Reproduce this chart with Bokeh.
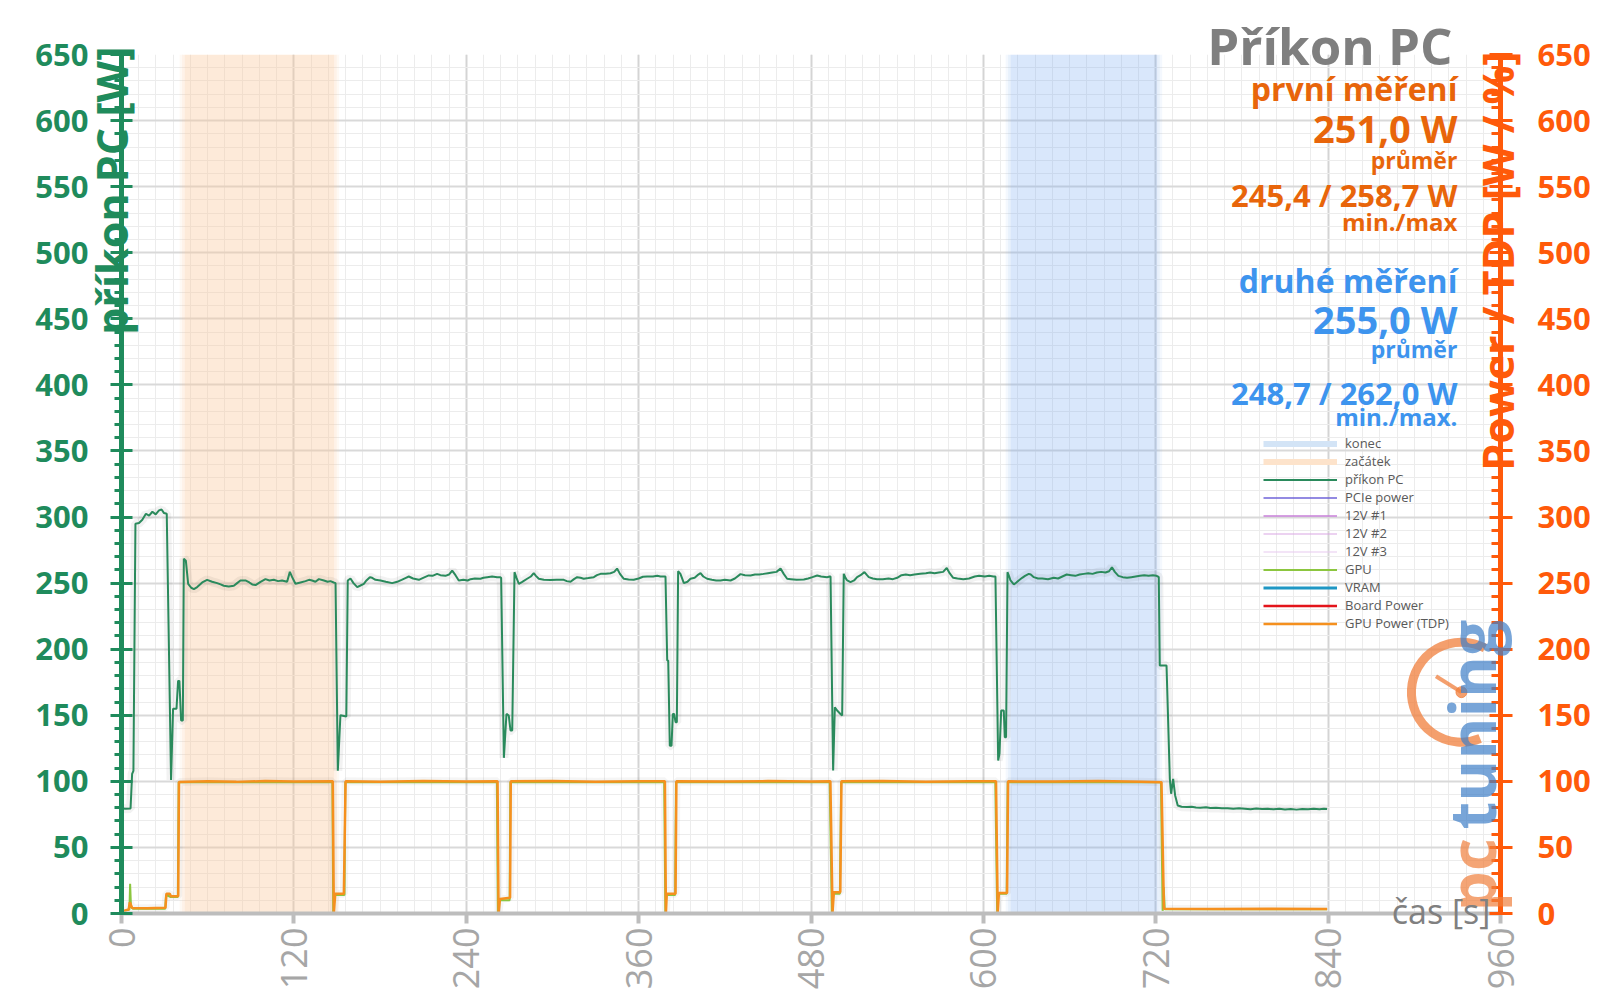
import math
from bokeh.plotting import figure
from bokeh.models import Range1d, LinearAxis, SingleIntervalTicker, Legend, LegendItem
from bokeh.core.properties import value
from bokeh.embed import file_html
from bokeh.resources import INLINE

# ---------------- data ----------------
# příkon PC [W] (time in s)
seg0_t = [0, 3, 6.3, 7.4, 8.3, 9.7, 12.2, 14.5, 17, 19.2, 21.5, 23.8, 26.1, 27.9, 29.6, 31.5, 34.5, 35.9, 38.3, 39.4, 40.3, 41.5, 42.7, 43.4, 44.8]
seg0_w = [79.5, 79.3, 79.5, 105.7, 108, 295, 295.5, 298, 302.5, 301, 304, 302, 305, 305.7, 303, 302.5, 101, 155, 155, 176, 176, 146, 146, 268.4, 267]
pl1_t = [46.4, 48.5, 50.4, 52.7, 56.2, 59.6, 63.1, 66.6, 69, 71.2, 74.7, 78.2, 80.5, 82.8, 86.3, 89, 91, 93.3, 96.8, 100.2, 103, 106, 109, 111.8, 115.3, 117.2, 118.8, 121.1, 124.6, 128.1, 130.5, 132.7, 135, 137.4, 140.9, 143.5, 145.5, 147.7]
pl1_w = [249.5, 246.5, 245.5, 247, 250.5, 252.5, 251, 250, 249, 248, 247.5, 248, 250, 252, 252, 250.5, 249, 248.5, 251, 253, 252, 252.5, 251.5, 252, 251, 258.5, 254.5, 249.5, 250.5, 251.5, 252.5, 252, 251, 253, 252, 251, 251.5, 250.5]
tr1_t = [149, 150.6, 152.4, 156.5]
tr1_w = [250, 108, 150, 149]
pl2_t = [157.5, 159.4, 161.5, 164.1, 166, 168.7, 170.5, 172.9, 174.5, 176.8, 180.3, 184, 188.4, 191.9, 195, 198, 200, 203, 207, 210, 213.9, 216.5, 219.7, 222, 225.5, 228, 230.2, 232.5, 234.8, 238, 241, 243, 246, 249.9, 252, 254.6, 258, 261.5, 263.5]
pl2_w = [252, 253.5, 250, 247, 248, 249.5, 252, 254.5, 254, 252.5, 252, 251, 250, 251, 252.5, 254, 255, 253.5, 252.5, 254, 255.8, 255.5, 257, 256, 255.5, 256.5, 259.5, 256, 252, 252.5, 252, 253, 253.5, 253.3, 254, 254.5, 255, 254.5, 254.5]
tr2_t = [264.3, 266.2, 268, 269.6, 270.8, 272]
tr2_w = [254, 117.8, 151, 149.8, 138.5, 138.5]
pl3_t = [273.6, 275, 276.6, 279, 282.4, 285, 287, 288.5, 290.5, 294, 298.6, 303, 307.9, 310, 312.6, 315, 317.2, 319.5, 321.8, 325, 328.8, 331, 333.5, 337, 340.4, 343, 345, 347, 349.7, 353, 356.6, 360, 363, 365.9, 370, 373, 375.2, 377.5]
pl3_w = [258.3, 254, 249.5, 251, 253.3, 255, 257.5, 255.5, 253.3, 252.5, 252.3, 252.5, 252.5, 251.5, 251, 253, 254.5, 254, 253.3, 253.8, 254.5, 256, 257, 257, 257.5, 258.5, 261, 257, 253.3, 252.8, 252.5, 253.5, 254.8, 255, 255, 255.5, 255, 255]
tr3_t = [378.7, 379.9, 380.6, 381.7, 382.9, 383.8, 384.7, 385.7, 386.6]
tr3_w = [255, 191.4, 191.4, 127, 127, 151, 151, 144.8, 144.8]
pl4_t = [387.5, 389.1, 391.5, 394, 396.1, 399, 401, 403.1, 405, 407.7, 411, 414, 417, 420, 424, 427, 430.9, 434, 437.9, 441, 444, 447.1, 450, 453, 456, 458.8, 461, 463.4, 466, 470, 475, 478, 481, 484.3, 487, 491.2, 493]
pl4_w = [259, 257, 250, 251, 253.3, 254, 256, 257.5, 255, 253.3, 252.5, 252, 252, 252.5, 252, 253.5, 256.8, 256, 255.8, 256.5, 256.5, 257, 257.5, 258, 258.5, 261, 257, 253.3, 253, 252.5, 252.8, 253.5, 254.5, 255.8, 255, 254.5, 255]
tr4_t = [493.6, 495.4, 496.6, 498.2, 500.5, 501.7]
tr4_w = [255, 108.2, 156, 153.6, 151, 149.8]
pl5_t = [502.8, 504, 505.2, 507.5, 510, 512.1, 514.5, 517.2, 519, 520.2, 523, 526, 530, 534, 537, 540, 543, 546, 549, 552, 556, 560, 563, 566, 569, 572, 574.5, 576.5, 579, 582, 586, 590, 594, 597, 601, 604, 607]
pl5_w = [257, 254, 252, 250.7, 252, 254.5, 256, 258.3, 256, 254.5, 253.5, 253, 253, 253.5, 253, 254, 256, 256.5, 256, 256.5, 257, 257.5, 258, 257.5, 258, 258.5, 261.5, 257.5, 254, 253.5, 253, 253.5, 255, 255.5, 255, 255.5, 255]
tr5_t = [608.4, 610.3, 611.2, 612.4, 614.2, 614.9, 615.8]
tr5_w = [255, 115.8, 120.8, 153.6, 153.6, 133.4, 133.4]
pl6_t = [616.8, 618, 618.9, 621.2, 623, 624.6, 627, 629, 631.6, 633, 635.1, 638, 641, 645, 649, 652, 655, 658, 661, 664, 667, 670, 673, 676, 679, 682, 685, 687.5, 689.5, 691.5, 694, 697, 700, 703, 706, 709, 712, 715, 718, 720.5, 721.5]
pl6_w = [258.3, 255, 252, 249, 250.5, 252, 254, 255.5, 257, 256.5, 254.5, 253.5, 253.5, 253, 254, 253.5, 255, 256.5, 256, 255.5, 256.5, 257, 257.5, 257, 258, 258.5, 258, 259, 262, 258.5, 255.5, 254.5, 254, 254.5, 255, 255.5, 256, 255.5, 256, 255.5, 255]
tr6_t = [722.1, 722.8, 727.5, 729.8, 730.7, 732.1, 733.5, 735.3]
tr6_w = [254.5, 187.7, 187.7, 101.9, 90.6, 101.9, 89.3, 81.7]
idle_t = [738, 741.8, 745, 748, 751, 755, 758, 762, 766, 770, 774, 778, 782, 786, 790, 794, 798, 802, 806, 810, 814, 818, 822, 826, 830, 834, 837, 839.3]
idle_w = [80.8, 80.5, 80.8, 80.2, 80, 80.4, 79.8, 80.1, 79.7, 79.6, 79.2, 79.6, 79.3, 78.9, 79.4, 79, 79.2, 78.8, 79.3, 78.7, 79, 78.6, 79.1, 78.8, 79.2, 78.9, 79.3, 79]

pc_t = seg0_t + pl1_t + tr1_t + pl2_t + tr2_t + pl3_t + tr3_t + pl4_t + tr4_t + pl5_t + tr5_t + pl6_t + tr6_t + idle_t
pc_w = seg0_w + pl1_w + tr1_w + pl2_w + tr2_w + pl3_w + tr3_w + pl4_w + tr4_w + pl5_w + tr5_w + pl6_w + tr6_w + idle_w

# GPU Power (TDP) [%]
tdp_t = [0, 1.5, 5, 5.8, 7.4, 18, 30.6, 31.3, 33.5, 34.5, 39.5, 40.0, 60, 80, 100, 120, 147.1, 147.8, 148.8, 154.8, 156,
         180, 210, 240, 261.8, 262.5, 263.5, 270.5, 271, 300, 330, 360, 378.3, 379, 379.6, 385.7, 386.3,
         420, 450, 480, 493.5, 495, 495.9, 500.4, 501.2, 530, 560, 590, 608.8, 610, 610.8, 616.5, 617.2,
         650, 680, 710, 724, 725.7, 760, 800, 839.3]
tdp_v = [1, 2, 3, 8.6, 4.2, 4.0, 4.3, 15, 15, 13, 13, 99.5, 100, 99.6, 100.2, 99.8, 100, 0.5, 15, 15, 100,
         99.7, 100.2, 99.8, 100, 0.5, 11, 12, 100, 100.3, 99.7, 100, 100, 0.5, 15, 15, 100,
         99.8, 100.2, 99.9, 100, 1, 16, 16, 100, 100.2, 99.7, 100, 100, 0.5, 15.5, 15.5, 100,
         99.8, 100.2, 99.7, 99.4, 3.5, 3.4, 3.5, 3.4]

# GPU [W]
gpu_t = [0, 2, 5.5, 6, 6.6, 8, 30.4, 31, 34.3, 39.2, 39.8, 146.8, 147.4, 148.5, 155.2, 155.8, 261.3, 262, 263, 270.2, 270.7,
         377.8, 378.6, 379.3, 385.4, 386, 493, 494.5, 495.6, 500.1, 501, 608.3, 609.6, 610.5, 616.2, 616.9,
         723.6, 724.8, 725.5, 726.3, 839.3]
gpu_v = [1, 2, 3, 22.4, 5, 3.5, 3.5, 14, 12.5, 12.5, 99.3, 99.3, 1, 14, 14, 99.3, 99.3, 0.5, 10, 10, 99.3,
         99.3, 0.5, 14, 14, 99.3, 99.3, 0.5, 15, 15, 99.3, 99.3, 0.5, 15, 15, 99.3,
         99.3, 2, 20, 3.3, 3.3]

zacatek = [44, 148]   # s
konec = [619, 721]    # s

stats_first = ["první měření", "251,0 W", "průměr", "245,4 / 258,7 W", "min./max"]
stats_second = ["druhé měření", "255,0 W", "průměr", "248,7 / 262,0 W", "min./max."]

legend_labels = ["konec", "začátek", "příkon PC", "PCIe power", "12V #1", "12V #2", "12V #3",
                 "GPU", "VRAM", "Board Power", "GPU Power (TDP)"]

assert len(pc_t) == len(pc_w) and len(tdp_t) == len(tdp_v) and len(gpu_t) == len(gpu_v)

# ---------------- figure ----------------
FONT = "Open Sans"
GREEN_AX = "#1f8b5c"
ORANGE_AX = "#ff5a0a"
GRAY_AX = "#bdbdbd"
NAN2 = [float("nan"), float("nan")]

p = figure(width=1600, height=1008, output_backend="svg", toolbar_location=None,
           x_range=Range1d(0, 960), y_range=Range1d(0, 650),
           min_border_left=121, min_border_right=100, min_border_top=54, min_border_bottom=95)
p.outline_line_color = None
p.background_fill_color = "white"
p.border_fill_color = "white"
p.extra_y_ranges = {"tdp": Range1d(0, 650)}

# x axis
xa = p.xaxis[0]
xa.ticker = SingleIntervalTicker(interval=120, num_minor_ticks=10)
xa.axis_line_color = GRAY_AX
xa.axis_line_width = 4
xa.major_tick_line_color = GRAY_AX
xa.major_tick_line_width = 4
xa.major_tick_out = 10
xa.major_tick_in = 0
xa.minor_tick_line_color = None
xa.major_label_orientation = math.pi / 2
xa.major_label_text_font = FONT
xa.major_label_text_font_size = "36px"
xa.major_label_text_color = "#a6a6a6"
xa.major_label_standoff = 4

# left axis
ya = p.yaxis[0]
ya.ticker = SingleIntervalTicker(interval=50, num_minor_ticks=5)
ya.axis_line_color = GREEN_AX
ya.axis_line_width = 5
ya.major_tick_line_color = GREEN_AX
ya.major_tick_line_width = 3
ya.major_tick_out = 11
ya.major_tick_in = 11
ya.minor_tick_line_color = GREEN_AX
ya.minor_tick_line_width = 3
ya.minor_tick_out = 7
ya.minor_tick_in = 0
ya.major_label_text_font = FONT
ya.major_label_text_font_style = "bold"
ya.major_label_text_font_size = "31px"
ya.major_label_text_color = GREEN_AX
ya.major_label_standoff = 22

# right axis
ra = LinearAxis(y_range_name="tdp", ticker=SingleIntervalTicker(interval=50, num_minor_ticks=5))
ra.axis_line_color = ORANGE_AX
ra.axis_line_width = 5
ra.major_tick_line_color = ORANGE_AX
ra.major_tick_line_width = 3
ra.major_tick_out = 12
ra.major_tick_in = 11
ra.minor_tick_line_color = ORANGE_AX
ra.minor_tick_line_width = 3
ra.minor_tick_out = 0
ra.minor_tick_in = 9
ra.major_label_text_font = FONT
ra.major_label_text_font_style = "bold"
ra.major_label_text_font_size = "31px"
ra.major_label_text_color = ORANGE_AX
ra.major_label_standoff = 25
p.add_layout(ra, "right")

# grid
p.xgrid.grid_line_color = "#d4d4d4"
p.xgrid.grid_line_width = 2
p.xgrid.minor_grid_line_color = "#ececec"
p.xgrid.minor_grid_line_width = 1
p.ygrid.grid_line_color = "#d9d9d9"
p.ygrid.grid_line_width = 2
p.ygrid.minor_grid_line_color = "#ececec"
p.ygrid.minor_grid_line_width = 1

# shaded bands with soft edges
for band, col, a in [(zacatek, "#f9c89a", 0.38), (konec, "#78aaf0", 0.28)]:
    p.quad(left=[band[0]], right=[band[1]], bottom=[0], top=[650], fill_color=col, fill_alpha=a, line_color=None)
    for lo, hi, aa in [(-3.5, -1.8, a * 0.3), (-1.8, 0, a * 0.6)]:
        p.quad(left=[band[0] + lo, band[1] - hi], right=[band[0] + hi, band[1] - lo], bottom=[0, 0], top=[650, 650],
               fill_color=col, fill_alpha=aa, line_color=None)

# glow / shadow under the lines
p.line(pc_t, pc_w, line_color="#000000", line_alpha=0.05, line_width=9)
p.line(tdp_t, tdp_v, line_color="#000000", line_alpha=0.04, line_width=8, y_range_name="tdp")

# legend-only series (not visible in the chart)
leg_konec = p.line(NAN2, NAN2, line_color="#d3e4f6", line_width=6)
leg_zac = p.line(NAN2, NAN2, line_color="#fde3cb", line_width=6)
leg_pcie = p.line(NAN2, NAN2, line_color="#6f63d9", line_width=1.5)
leg_12v1 = p.line(NAN2, NAN2, line_color="#c77fd9", line_width=1.5)
leg_12v2 = p.line(NAN2, NAN2, line_color="#d9a6e4", line_width=1.2)
leg_12v3 = p.line(NAN2, NAN2, line_color="#e8c9ef", line_width=1.2)
leg_vram = p.line(NAN2, NAN2, line_color="#1f97c4", line_width=3)
leg_board = p.line(NAN2, NAN2, line_color="#e3141b", line_width=2.5)

r_gpu = p.line(gpu_t, gpu_v, line_color="#8cc63f", line_width=2, y_range_name="tdp")
r_tdp = p.line(tdp_t, tdp_v, line_color="#f5901e", line_width=2.5, y_range_name="tdp")
r_pc = p.line(pc_t, pc_w, line_color="#2a8a5c", line_width=2)

renderers = [leg_konec, leg_zac, r_pc, leg_pcie, leg_12v1, leg_12v2, leg_12v3, r_gpu, leg_vram, leg_board, r_tdp]
legend = Legend(items=[LegendItem(label=lab, renderers=[r]) for lab, r in zip(legend_labels, renderers)],
                location=(1142, 281), orientation="vertical",
                label_text_font=FONT, label_text_font_size="13px", label_text_color="#595959",
                glyph_width=74, glyph_height=17, label_height=17, label_standoff=8, spacing=0,
                padding=0, margin=0, background_fill_alpha=0, border_line_color=None)
p.add_layout(legend)

# logo (watermark)
p.arc(x=[932.8], y=[167.5], radius=50, radius_units="screen",
      start_angle=math.radians(62), end_angle=math.radians(292),
      direction="anticlock", line_color="#f07f3c", line_width=9, line_alpha=0.75)
p.ray(x=[932.8], y=[167.5], length=30, length_units="screen", angle=math.radians(148),
      line_color="#f07f3c", line_width=4, line_alpha=0.75)
p.scatter(x=[932.8], y=[167.5], size=11, color="#f07f3c", alpha=0.75)


def add_text(x, y, txt, size, color, bold=True, angle=0.0, align="right", baseline="alphabetic", alpha=1.0):
    p.text(x=[x], y=[y], text=[txt], angle=angle, text_align=align, text_baseline=baseline,
           text_font=value(FONT), text_font_style=value("bold" if bold else "normal"),
           text_font_size=value(size), text_color=color, text_alpha=alpha, level="overlay")


add_text(939.5, 1.5, "pc", "64px", "#f07f3c", angle=math.pi / 2, align="left", baseline="middle", alpha=0.7)
add_text(939.5, 63.6, "tuning", "64px", "#3f7fc8", angle=math.pi / 2, align="left", baseline="middle", alpha=0.7)

# axis labels (placed over the axes as in the original)
add_text(-6.8, 656, "příkon PC [W]", "43px", GREEN_AX, angle=math.pi / 2, align="right", baseline="middle")
add_text(957.9, 652.3, "Power / TDP [W / %]", "43px", ORANGE_AX, angle=math.pi / 2, align="right", baseline="middle")
add_text(953, 1.8, "čas [s]", "34px", "#808080", bold=False)

# title and statistics
add_text(926.6, 657.5, "Příkon PC", "51px", "#7f7f7f")
sizes = ["32px", "38px", "23px", "31px", "24px"]
base1 = [624.6, 594.6, 570.5, 543.4, 523.9]
base2 = [479.3, 450.1, 427.5, 393.6, 376.4]
for txt, sz, yy in zip(stats_first, sizes, base1):
    add_text(930.0, yy, txt, sz, "#e8650a")
for txt, sz, yy in zip(stats_second, sizes, base2):
    add_text(930.0, yy, txt, sz, "#3d94ee")

open("out.html", "w").write(file_html(p, INLINE))
